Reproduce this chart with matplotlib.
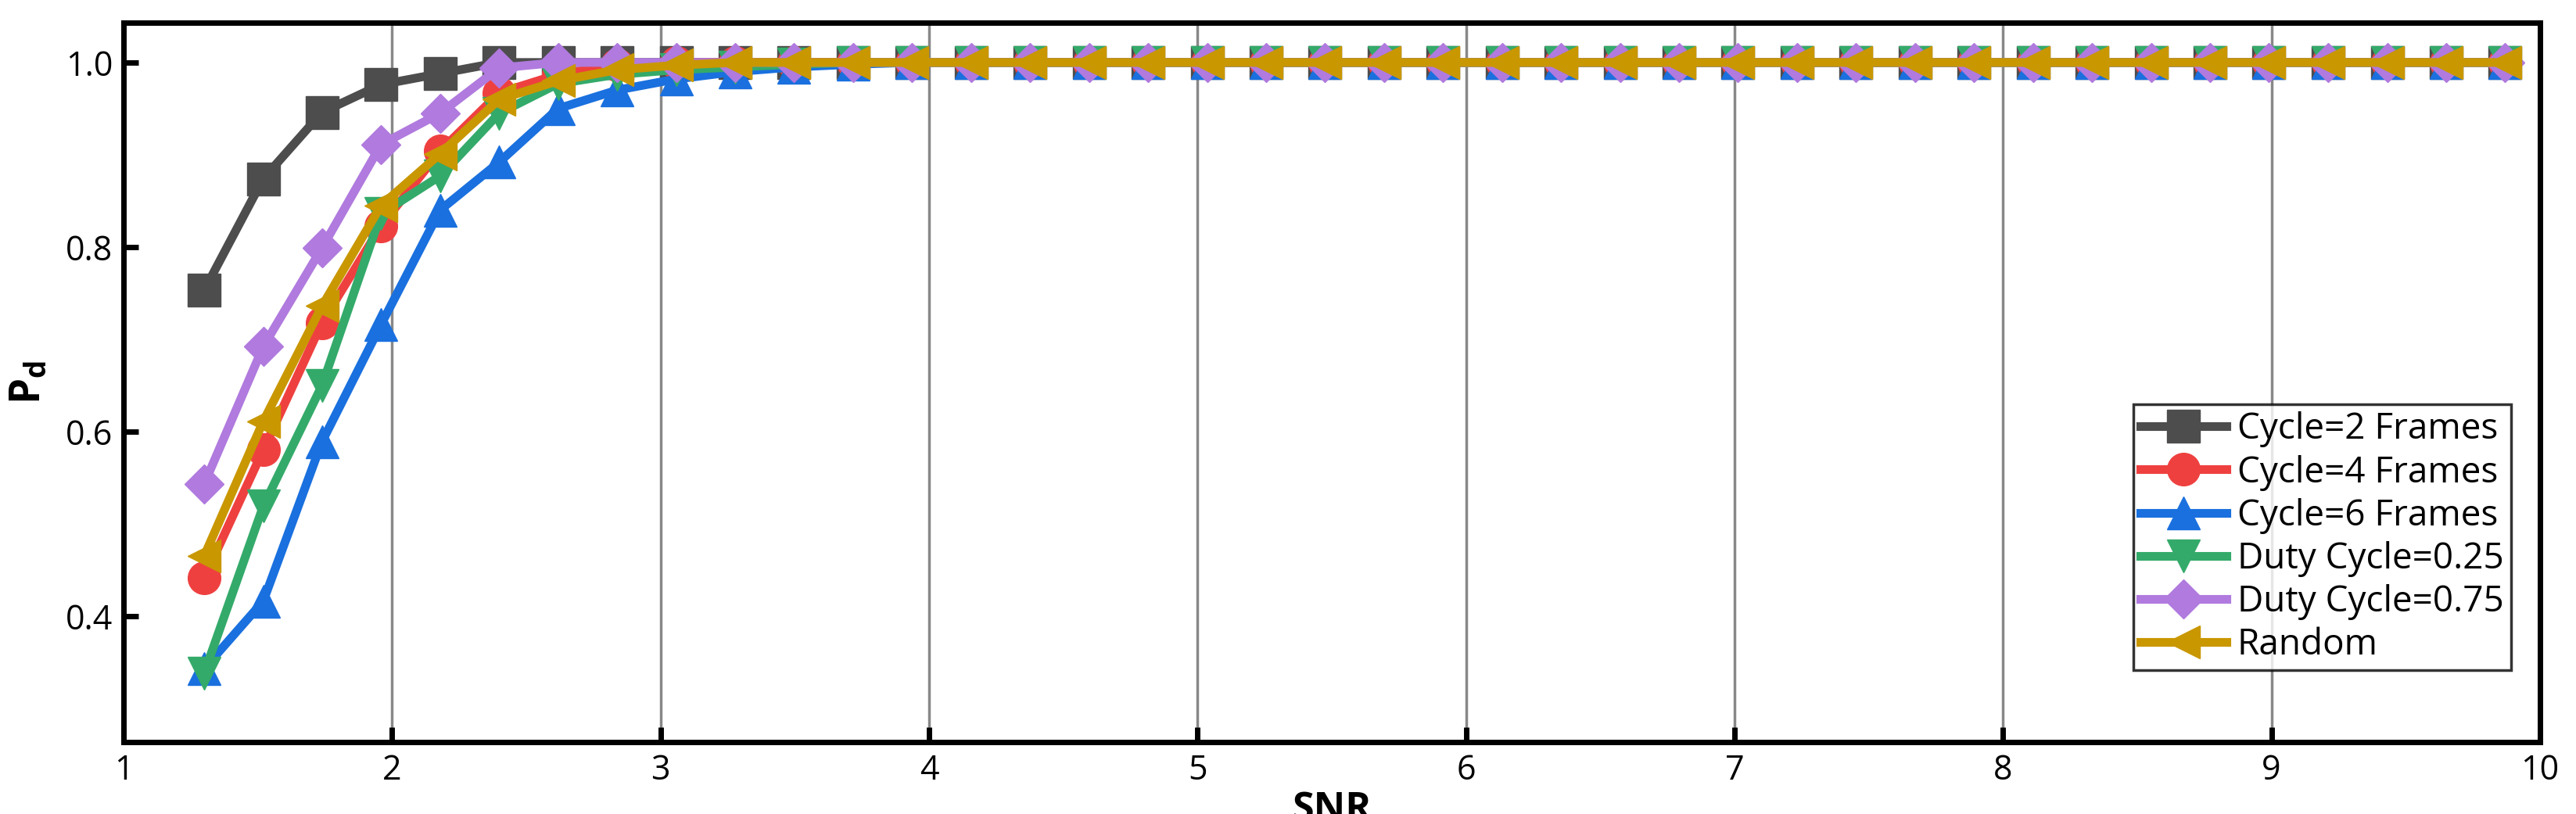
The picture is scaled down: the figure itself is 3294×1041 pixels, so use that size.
import numpy as np
import matplotlib
matplotlib.use("Agg")
import matplotlib.pyplot as plt

plt.rcParams['font.family'] = ['Open Sans', 'DejaVu Sans']

x = list(np.round(np.linspace(1.3, 9.87, 40), 3))
n = 40
def pad(v):
    return v + [1.0] * (n - len(v))

cycle2 = pad([0.753, 0.874, 0.946, 0.976, 0.988, 1.0])
cycle4 = pad([0.441, 0.58, 0.718, 0.823, 0.904, 0.967, 0.987, 0.997])
cycle6 = pad([0.343, 0.416, 0.589, 0.716, 0.84, 0.892, 0.95, 0.97, 0.982, 0.99, 0.995, 0.998])
duty25 = pad([0.338, 0.519, 0.65, 0.836, 0.877, 0.945, 0.977, 0.987, 0.992, 0.995, 0.998])
duty75 = pad([0.543, 0.692, 0.799, 0.911, 0.945, 0.994])
rand = pad([0.465, 0.611, 0.736, 0.845, 0.901, 0.96, 0.98, 0.992, 0.997])

series = [
    ("Cycle=2 Frames", cycle2, "#4d4d4d", "s"),
    ("Cycle=4 Frames", cycle4, "#ef4040", "o"),
    ("Cycle=6 Frames", cycle6, "#1a70de", "^"),
    ("Duty Cycle=0.25", duty25, "#34aa6a", "v"),
    ("Duty Cycle=0.75", duty75, "#b07ade", "D"),
    ("Random", rand, "#c99700", "<"),
]

fig = plt.figure(figsize=(32.94, 10.41), dpi=100)
ax = fig.add_axes([0.048, 0.088, 0.938, 0.884])
for lab, y, c, m in series:
    ms = 25 if m == "D" else 30
    ax.plot(x, y, color=c, marker=m, lw=8, ms=ms, label=lab)

ax.set_xlim(1, 10)
ax.set_ylim(0.263, 1.043)
ax.set_xticks(range(1, 11))
ax.set_yticks([0.4, 0.6, 0.8, 1.0])
ax.set_yticklabels(["0.4", "0.6", "0.8", "1.0"])
ax.grid(axis='x', color='#888888', lw=2.5)
ax.set_axisbelow(True)
for s in ax.spines.values():
    s.set_linewidth(5)
ax.tick_params(direction='in', length=14, width=5, labelsize=31, pad=10)
ax.set_xlabel("SNR", fontsize=36, fontweight='bold', labelpad=2)
ax.set_ylabel("P$_\\mathregular{d}$", fontsize=38, fontweight='bold', labelpad=14)
leg = ax.legend(loc='lower right', bbox_to_anchor=(0.988, 0.10), fontsize=33,
                frameon=True, fancybox=False, edgecolor='black', handlelength=2.4,
                borderpad=0.2, labelspacing=0.2, borderaxespad=0.0, handletextpad=0.3)
leg.get_frame().set_linewidth(2.5)
fig.savefig("out.png", dpi=100)
